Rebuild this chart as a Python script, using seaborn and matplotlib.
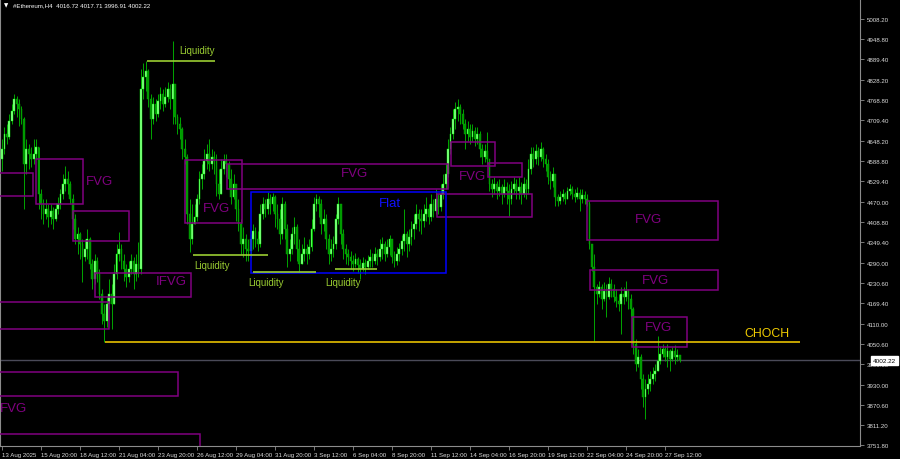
import numpy as np
import pandas as pd
import seaborn as sns
import matplotlib.pyplot as plt
from matplotlib.patches import Rectangle

# Ethereum H4 candles (first open, then close/high/low per bar)
first_open = 4595
closes = [
    4625, 4669, 4660, 4707, 4737, 4772, 4757, 4742, 4713, 4580,
    4625, 4610, 4595, 4610, 4630, 4492, 4462, 4433, 4448, 4424,
    4442, 4418, 4448, 4462, 4492, 4521, 4536, 4521, 4477, 4418,
    4359, 4374, 4344, 4306, 4330, 4359, 4285, 4241, 4294, 4256,
    4197, 4138, 4117, 4167, 4197, 4167, 4256, 4315, 4330, 4294,
    4271, 4247, 4271, 4294, 4256, 4285, 4271, 4802, 4837, 4855,
    4772, 4713, 4757, 4728, 4766, 4787, 4757, 4778, 4802, 4772,
    4816, 4719, 4698, 4684, 4625, 4601, 4433, 4359, 4403, 4424,
    4477, 4536, 4551, 4589, 4610, 4580, 4601, 4589, 4521, 4492,
    4565, 4589, 4580, 4536, 4483, 4521, 4448, 4403, 4344, 4359,
    4330, 4324, 4359, 4383, 4359, 4344, 4433, 4462, 4448, 4477,
    4462, 4483, 4433, 4418, 4374, 4462, 4389, 4315, 4330, 4374,
    4394, 4330, 4285, 4315, 4330, 4315, 4335, 4389, 4462, 4477,
    4462, 4403, 4418, 4359, 4315, 4330, 4344, 4418, 4462, 4374,
    4330, 4315, 4306, 4294, 4285, 4300, 4282, 4271, 4288, 4276,
    4294, 4306, 4294, 4315, 4306, 4330, 4344, 4315, 4335, 4359,
    4306, 4294, 4315, 4330, 4353, 4374, 4344, 4365, 4389, 4403,
    4433, 4418, 4412, 4433, 4448, 4424, 4462, 4442, 4477, 4453,
    4492, 4521, 4551, 4625, 4669, 4713, 4742, 4748, 4728, 4698,
    4669, 4684, 4660, 4678, 4654, 4669, 4625, 4601, 4619, 4595,
    4521, 4507, 4521, 4501, 4512, 4492, 4512, 4501, 4477, 4507,
    4521, 4501, 4512, 4492, 4521, 4507, 4565, 4610, 4595, 4619,
    4601, 4625, 4595, 4580, 4542, 4530, 4551, 4483, 4471, 4483,
    4492, 4477, 4501, 4507, 4492, 4483, 4495, 4477, 4489, 4477,
    4462, 4344, 4276, 4217, 4197, 4217, 4182, 4206, 4188, 4226,
    4212, 4188, 4176, 4167, 4197, 4188, 4206, 4182, 4153, 4050,
    3990, 4011, 3946, 3893, 3917, 3931, 3946, 3961, 3970, 3999,
    4020, 4035, 4011, 4029, 4005, 4029, 4011, 4016.72, 4002.22,
]
highs = [
    4654, 4689, 4698, 4728, 4757, 4787, 4781, 4772, 4751, 4719,
    4654, 4639, 4630, 4654, 4654, 4630, 4507, 4477, 4477, 4462,
    4462, 4453, 4465, 4483, 4507, 4551, 4574, 4560, 4530, 4492,
    4433, 4394, 4380, 4359, 4359, 4389, 4365, 4300, 4315, 4306,
    4271, 4212, 4167, 4188, 4241, 4226, 4285, 4344, 4380, 4344,
    4315, 4285, 4294, 4315, 4306, 4315, 4350, 4861, 4878, 4884,
    4861, 4787, 4778, 4772, 4787, 4807, 4802, 4807, 4822, 4816,
    4943, 4816, 4728, 4719, 4689, 4654, 4610, 4477, 4462, 4462,
    4492, 4560, 4580, 4625, 4639, 4654, 4625, 4619, 4610, 4565,
    4595, 4610, 4610, 4589, 4565, 4551, 4521, 4477, 4418, 4394,
    4374, 4359, 4374, 4403, 4394, 4383, 4462, 4483, 4477, 4498,
    4492, 4495, 4489, 4462, 4448, 4483, 4471, 4403, 4359, 4394,
    4424, 4403, 4359, 4344, 4365, 4344, 4359, 4418, 4483, 4492,
    4486, 4477, 4448, 4433, 4374, 4359, 4368, 4433, 4483, 4462,
    4389, 4344, 4330, 4324, 4312, 4318, 4306, 4300, 4306, 4300,
    4312, 4330, 4318, 4335, 4330, 4359, 4365, 4353, 4359, 4371,
    4359, 4324, 4335, 4347, 4371, 4448, 4383, 4389, 4412, 4433,
    4462, 4448, 4448, 4462, 4483, 4462, 4492, 4477, 4507, 4492,
    4521, 4551, 4580, 4654, 4689, 4742, 4763, 4772, 4757, 4742,
    4713, 4707, 4698, 4698, 4689, 4689, 4678, 4639, 4639, 4675,
    4595, 4536, 4542, 4530, 4536, 4521, 4536, 4527, 4521, 4530,
    4542, 4536, 4542, 4527, 4542, 4536, 4595, 4630, 4630, 4639,
    4630, 4645, 4630, 4610, 4595, 4560, 4571, 4551, 4492, 4501,
    4507, 4498, 4512, 4521, 4515, 4507, 4512, 4507, 4507, 4501,
    4492, 4471, 4344, 4315, 4226, 4235, 4226, 4232, 4226, 4247,
    4241, 4226, 4212, 4197, 4217, 4217, 4235, 4212, 4197, 4158,
    4064, 4035, 4020, 3961, 3946, 3961, 3970, 3981, 3990, 4073,
    4041, 4050, 4041, 4050, 4035, 4041, 4047, 4035, 4017.71,
]
lows = [
    4560, 4610, 4639, 4654, 4698, 4728, 4719, 4692, 4698, 4448,
    4551, 4565, 4571, 4580, 4595, 4448, 4418, 4403, 4418, 4394,
    4403, 4389, 4412, 4433, 4448, 4477, 4501, 4492, 4462, 4389,
    4344, 4315, 4300, 4232, 4294, 4300, 4271, 4212, 4226, 4232,
    4182, 4108, 4055, 4099, 4153, 4094, 4167, 4241, 4294, 4271,
    4235, 4217, 4232, 4256, 4212, 4235, 4247, 4256, 4772, 4796,
    4748, 4654, 4698, 4707, 4719, 4742, 4737, 4748, 4763, 4742,
    4698, 4698, 4669, 4654, 4595, 4580, 4403, 4321, 4344, 4403,
    4412, 4462, 4507, 4536, 4565, 4560, 4565, 4551, 4486, 4477,
    4492, 4551, 4542, 4507, 4462, 4477, 4412, 4383, 4315, 4306,
    4294, 4294, 4306, 4330, 4335, 4324, 4335, 4418, 4424, 4433,
    4433, 4442, 4394, 4389, 4344, 4359, 4359, 4276, 4294, 4315,
    4344, 4294, 4265, 4285, 4294, 4285, 4300, 4324, 4383, 4442,
    4424, 4374, 4383, 4330, 4285, 4294, 4306, 4330, 4403, 4344,
    4300, 4285, 4282, 4271, 4265, 4276, 4259, 4241, 4265, 4256,
    4271, 4276, 4276, 4285, 4282, 4294, 4300, 4294, 4306, 4312,
    4288, 4276, 4282, 4294, 4312, 4324, 4306, 4324, 4341, 4359,
    4389, 4383, 4374, 4394, 4412, 4403, 4412, 4424, 4433, 4433,
    4442, 4477, 4507, 4542, 4610, 4654, 4684, 4707, 4698, 4684,
    4625, 4648, 4639, 4648, 4633, 4639, 4601, 4580, 4586, 4580,
    4501, 4483, 4492, 4477, 4486, 4462, 4483, 4462, 4427, 4462,
    4492, 4477, 4477, 4462, 4483, 4477, 4492, 4551, 4571, 4580,
    4577, 4589, 4571, 4560, 4521, 4507, 4512, 4456, 4456, 4462,
    4471, 4462, 4477, 4489, 4477, 4468, 4477, 4442, 4465, 4462,
    4456, 4330, 4265, 4058, 4167, 4188, 4153, 4176, 4129, 4182,
    4188, 4173, 4158, 4147, 4079, 4167, 4176, 4153, 4129, 4020,
    3970, 3981, 3917, 3863, 3828, 3902, 3911, 3931, 3940, 3970,
    3990, 4011, 3999, 3981, 3970, 3999, 3990, 3999, 3996.91,
]

x_labels = ["13 Aug 2025", "15 Aug 20:00", "18 Aug 12:00", "21 Aug 04:00", "23 Aug 20:00",
            "26 Aug 12:00", "29 Aug 04:00", "31 Aug 20:00", "3 Sep 12:00", "6 Sep 04:00",
            "8 Sep 20:00", "11 Sep 12:00", "14 Sep 04:00", "16 Sep 20:00", "19 Sep 12:00",
            "22 Sep 04:00", "24 Sep 20:00", "27 Sep 12:00"]
y_ticks = [5008.2, 4948.8, 4889.4, 4828.2, 4768.8, 4709.4, 4648.2, 4588.8, 4529.4, 4470.0,
           4408.8, 4349.4, 4290.0, 4230.6, 4169.4, 4110.0, 4050.6, 3990.0, 3930.0, 3870.6,
           3811.2, 3751.8]

# FVG zones (bar index start/end, price top/bottom)
fvg_start = [-5, 14.0, 29.1, 38.2, -5, 75.1, 92.3, 184.2, 199.4, 178.5, 240.0, 241.2, 258.5, -5, -5]
fvg_end = [12.7, 33.2, 52.1, 77.5, 43.9, 98.5, 183.0, 202.3, 213.3, 217.4, 293.7, 293.7, 281.0, 72.2, 81.2]
fvg_top = [4554, 4595, 4442, 4259, 4173, 4592, 4580, 4645, 4583, 4492, 4471, 4268, 4129, 3967, 3784]
fvg_bottom = [4486, 4462, 4353, 4188, 4094, 4406, 4507, 4574, 4542, 4424, 4356, 4209, 4041, 3896, 3730]
fvg_text = ["FVG", "IFVG", "FVG", "FVG", "FVG", "FVG", "FVG", "FVG", "FVG"]
fvg_text_bar = [40.2, 69.3, 87.8, 144.8, 193.2, 265.4, 268.3, 269.5, 4.9]
fvg_text_price = [4530, 4237, 4451, 4554, 4545, 4418, 4238, 4099, 3861]

flat_start, flat_end, flat_top, flat_bottom = 102.2, 182.2, 4498, 4259

liq_start = [59.5, 78.4, 103.0, 136.6]
liq_end = [87.4, 109.1, 128.8, 153.8]
liq_price = [4884, 4312, 4262, 4271]
liq_text_bar = [80.0, 86.2, 108.3, 139.9]
liq_text_price = [4917, 4282, 4232, 4232]

choch_start, choch_end, choch_price = 42.3, 327.4, 4055
last_price = 4002.22

opens = [first_open] + closes[:-1]
df = pd.DataFrame({"open": opens, "high": highs, "low": lows, "close": closes})
df["bar"] = np.arange(len(df))
df["high"] = df[["high", "open", "close"]].max(axis=1)
df["low"] = df[["low", "open", "close"]].min(axis=1)
up = df["close"] >= df["open"]

sns.set_theme(style="dark", rc={"axes.facecolor": "black", "figure.facecolor": "black",
                                "axes.edgecolor": "#8c8c8c", "axes.grid": False,
                                "xtick.color": "#8c8c8c", "ytick.color": "#8c8c8c"})
plt.rcParams["font.family"] = ["Liberation Sans", "DejaVu Sans"]

fig = plt.figure(figsize=(9, 4.6), dpi=100)
ax = fig.add_axes([0, 13 / 460, 860 / 900, 447 / 460])

# current price line
ax.axhline(last_price, color="#4a4a58", lw=1.0, zorder=1)

# candles
ax.vlines(df["bar"], df["low"], df["high"], color="#00c000", lw=0.6, zorder=3)
ax.bar(df["bar"][up], (df["close"] - df["open"])[up], bottom=df["open"][up], width=0.75,
       color="#8cff8c", edgecolor="#00ff00", linewidth=0.3, zorder=4)
ax.bar(df["bar"][~up], (df["open"] - df["close"])[~up], bottom=df["close"][~up], width=0.75,
       color="#009600", edgecolor="#00b000", linewidth=0.3, zorder=4)

# FVG boxes
for s, e, t, b in zip(fvg_start, fvg_end, fvg_top, fvg_bottom):
    ax.add_patch(Rectangle((s, b), e - s, t - b, fill=False, edgecolor="#800080", lw=1.1, zorder=5))
for txt, xb, yp in zip(fvg_text, fvg_text_bar, fvg_text_price):
    ax.text(xb, yp, txt, color="#800080", fontsize=9.5, ha="center", va="center", zorder=6)

# flat range
ax.add_patch(Rectangle((flat_start, flat_bottom), flat_end - flat_start, flat_top - flat_bottom,
                       fill=False, edgecolor="#0000ff", lw=1.1, zorder=5))
ax.text(159.2, 4465, "Flat", color="#1010ff", fontsize=9.5, ha="center", va="center", zorder=6)

# liquidity levels
for s, e, p in zip(liq_start, liq_end, liq_price):
    ax.hlines(p, s, e, color="#9acd32", lw=1.2, zorder=5)
for xb, yp in zip(liq_text_bar, liq_text_price):
    ax.text(xb, yp, "Liquidity", color="#9acd32", fontsize=7, ha="center", va="center", zorder=6)

# CHOCH
ax.hlines(choch_price, choch_start, choch_end, color="#e6c000", lw=1.2, zorder=5)
ax.text(313.8, 4081, "CHOCH", color="#f0cc00", fontsize=8.8, ha="center", va="center", zorder=6)

ax.set_xlim(-0.82, 352.0)
ax.set_ylim(3749.0, 5067.2)

ax.set_xticks(np.arange(0, 16 * len(x_labels), 16))
ax.set_xticklabels(x_labels, ha="left")
ax.yaxis.tick_right()
ax.set_yticks(y_ticks)
ax.set_yticklabels([f"{v:.2f}" for v in y_ticks])
ax.tick_params(axis="x", direction="out", length=3, width=0.6, pad=1.5, labelsize=4.4,
               labelcolor="#dcdcdc", bottom=True)
ax.tick_params(axis="y", direction="out", length=3, width=0.6, pad=2, labelsize=4.4,
               labelcolor="#dcdcdc", right=True, left=False)
for side in ["right", "bottom", "left"]:
    ax.spines[side].set_color("#8c8c8c")
    ax.spines[side].set_linewidth(0.8)
ax.spines["top"].set_visible(False)

ax.annotate(f"{last_price:.2f}", xy=(1, last_price), xycoords=("axes fraction", "data"),
            xytext=(9.5, 0), textcoords="offset points", ha="left", va="center",
            fontsize=4.6, color="black",
            bbox=dict(boxstyle="square,pad=0.3", fc="white", ec="white"), annotation_clip=False)

fig.text(4 / 900, 1 - 6 / 460, "\u25bc", color="white", fontsize=4, ha="left", va="center",
         family=["DejaVu Sans"])
fig.text(13 / 900, 1 - 6 / 460, "#Ethereum,H4  4016.72 4017.71 3996.91 4002.22", color="white",
         fontsize=4.4, ha="left", va="center")

fig.savefig("out.png", dpi=100, facecolor="black")
